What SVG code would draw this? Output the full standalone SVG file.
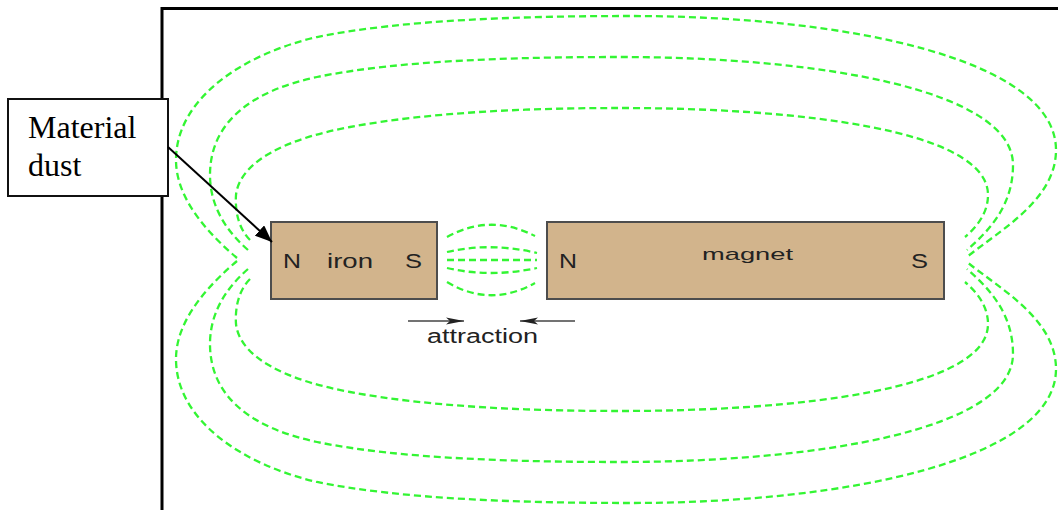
<svg xmlns="http://www.w3.org/2000/svg" width="1058" height="510" viewBox="0 0 1058 510">
<style>
.field{fill:none;stroke:#33f533;stroke-width:2.3;stroke-dasharray:7 4}
.bar{fill:#D2B48C;stroke:#4d4d4d;stroke-width:2}
.lbl{font-family:"Liberation Sans",Arial,sans-serif;font-size:20px;fill:#222}
.note{font-family:"Liberation Serif","Times New Roman",serif;font-size:32px;fill:#000}
</style>
<defs>
<marker id="ah" markerWidth="18" markerHeight="14" refX="17" refY="7" orient="auto" markerUnits="userSpaceOnUse">
<path d="M0,0 L17,7 L0,14 Z" fill="#000"/>
</marker>
<marker id="sa" markerWidth="19" markerHeight="8" refX="18" refY="4" orient="auto" markerUnits="userSpaceOnUse">
<path d="M0,0.5 L18,4 L0,7.5 L4,4 Z" fill="#222"/>
</marker>
<g id="topLoops">
<path class="field" d="M237,258 C210,235 176,200 176,160 C176,100 240,55 317,37 C400,20 520,16 630,16 C850,16 1056,60 1056,150 C1056,200 1000,230 967,257"/>
<path class="field" d="M248,250 C225,230 210,205 210,175 C210,120 255,90 317,77 C400,60 520,57 620,57 C820,57 1013,90 1013,165 C1013,205 990,230 967,250"/>
<path class="field" d="M250,240 C238,228 235,210 236,195 C240,160 290,138 350,127 C430,112 530,108 620,108 C800,108 988,130 988,195 C988,212 978,226 965,237"/>
</g>
</defs>
<rect width="1058" height="510" fill="#fff"/>
<path d="M162,510 V8.5 H1058" fill="none" stroke="#000" stroke-width="3"/>
<g id="field">
<use href="#topLoops"/>
<use href="#topLoops" transform="translate(0,519) scale(1,-1)"/>
<path class="field" d="M447,237 Q490,213 535,236"/>
<path class="field" d="M447,252 Q490,242 537,253"/>
<path class="field" d="M447,260 L537,260"/>
<path class="field" d="M447,268 Q490,278 537,268"/>
<path class="field" d="M447,282 Q490,308 535,283"/>
</g>
<g id="iron">
<rect class="bar" x="271" y="222" width="166" height="77"/>
<text class="lbl" x="283" y="268" textLength="18" lengthAdjust="spacingAndGlyphs">N</text>
<text class="lbl" x="327" y="268" textLength="46" lengthAdjust="spacingAndGlyphs">iron</text>
<text class="lbl" x="405" y="268" textLength="17" lengthAdjust="spacingAndGlyphs">S</text>
</g>
<g id="magnet">
<rect class="bar" x="547" y="222" width="397" height="77"/>
<text class="lbl" x="559" y="268" textLength="18" lengthAdjust="spacingAndGlyphs">N</text>
<text class="lbl" x="702" y="260" style="font-size:17px" textLength="91" lengthAdjust="spacingAndGlyphs">magnet</text>
<text class="lbl" x="911" y="268" textLength="17" lengthAdjust="spacingAndGlyphs">S</text>
</g>
<g id="material-dust">
<rect x="8" y="99" width="160" height="97" fill="#fff" stroke="#111" stroke-width="2"/>
<text class="note" x="28" y="138">Material</text>
<text class="note" x="28" y="176">dust</text>
</g>
<g id="attraction">
<text class="lbl" x="427" y="343" textLength="111" lengthAdjust="spacingAndGlyphs">attraction</text>
</g>
<g id="connectors">
<line x1="168" y1="147" x2="272" y2="242" stroke="#000" stroke-width="2" marker-end="url(#ah)"/>
<line x1="408" y1="321" x2="464" y2="321" stroke="#444" stroke-width="1.5" marker-end="url(#sa)"/>
<line x1="575" y1="321" x2="520" y2="321" stroke="#444" stroke-width="1.5" marker-end="url(#sa)"/>
</g>
</svg>
